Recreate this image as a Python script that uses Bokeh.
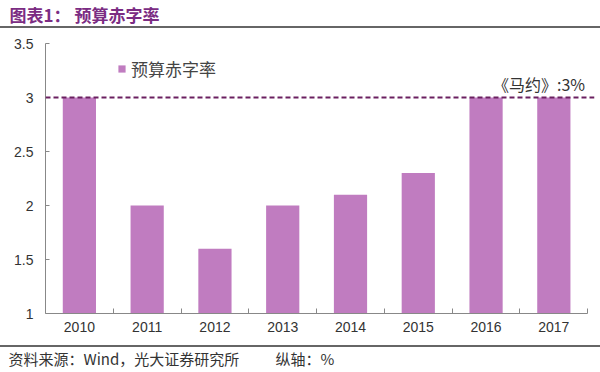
from bokeh.plotting import figure
from bokeh.layouts import column
from bokeh.models import Span, Label, NumeralTickFormatter, FixedTicker, ColumnDataSource, Range1d, Div
from bokeh.core.properties import value
from bokeh.embed import file_html
from bokeh.resources import INLINE

years = ["2010", "2011", "2012", "2013", "2014", "2015", "2016", "2017"]
deficit = [3.0, 2.0, 1.6, 2.0, 2.1, 2.3, 3.0, 3.0]
y_ticks = [1, 1.5, 2, 2.5, 3, 3.5]
maastricht = 3.0
title_text = "图表1：  预算赤字率"
source_text = "资料来源：Wind，光大证券研究所"
unit_text = "纵轴：%"
series_name = "预算赤字率"
ref_text = "《马约》:3%"

CJK = "Noto Sans CJK SC"
LAT = "Liberation Sans"
W = 600


def strip(h):
    f = figure(width=W, height=h, x_range=Range1d(0, W), y_range=Range1d(h, 0),
               output_backend="svg", toolbar_location=None,
               x_axis_location=None, y_axis_location=None,
               min_border=0, min_border_left=0, min_border_right=0,
               min_border_top=0, min_border_bottom=0)
    f.grid.grid_line_color = None
    f.outline_line_color = None
    f.frame_align = False
    return f


def rule():
    return Div(text="", width=W, height=2, margin=0,
               styles={"background-color": "#666666"})


# --- title strip
top = strip(26)
top.text(x=[9], y=[14], text=[title_text], text_font=value(CJK), text_font_style="bold",
         text_font_size="17px", text_color="#7b2c83", text_baseline="middle")

# --- main chart
xpos = [i + 0.5 for i in range(len(years))]
src = ColumnDataSource(dict(x=xpos, val=deficit))
p = figure(x_range=Range1d(0, 8.10), y_range=Range1d(1, 3.5), width=W, height=317,
           output_backend="svg", toolbar_location=None,
           min_border_top=15, min_border_bottom=32, min_border_left=45, min_border_right=6)
p.frame_align = False
p.outline_line_color = None
p.grid.grid_line_color = None

p.vbar(x="x", top="val", bottom=1, width=0.49, source=src,
       fill_color="#c07cc0", line_color=None, legend_label=series_name)

p.yaxis.ticker = FixedTicker(ticks=y_ticks)
p.yaxis.formatter = NumeralTickFormatter(format="0.[0]")
p.xaxis.ticker = FixedTicker(ticks=xpos, minor_ticks=list(range(1, len(years) + 1)))
p.xaxis.major_label_overrides = {x: y for x, y in zip(xpos, years)}
p.xaxis.bounds = (0, len(years))
for ax in (p.xaxis, p.yaxis):
    ax.axis_line_color = "#888888"
    ax.major_tick_line_color = "#888888"
    ax.major_tick_in = 4
    ax.major_tick_out = 0
    ax.minor_tick_line_color = None
    ax.major_label_text_font = LAT
    ax.major_label_text_font_size = "14px"
    ax.major_label_text_color = "#333333"
p.xaxis.major_tick_line_color = None
p.xaxis.minor_tick_line_color = "#888888"
p.xaxis.minor_tick_in = 5
p.xaxis.minor_tick_out = 0
p.xaxis.major_label_standoff = 8
p.yaxis.major_label_standoff = 12

p.add_layout(Span(location=maastricht, dimension="width", line_color="#6b2060",
                  line_width=2.2, line_dash="5 3"))
p.add_layout(Label(x=7.96, y=maastricht, text=ref_text, text_align="right",
                   text_baseline="bottom", y_offset=2, text_font=CJK,
                   text_font_size="16px", text_color="#333333"))

p.legend.location = (72, 232)
p.legend.border_line_color = None
p.legend.background_fill_alpha = 0
p.legend.label_text_font = CJK
p.legend.label_text_font_size = "17px"
p.legend.label_text_color = "#444444"
p.legend.glyph_width = 9
p.legend.glyph_height = 9
p.legend.label_height = 20
p.legend.padding = 0
p.legend.margin = 0
p.legend.label_standoff = 5

# --- source strip
bot = strip(25)
bot.text(x=[8], y=[11], text=[source_text], text_font=value(CJK), text_font_size="15px",
         text_color="#333333", text_baseline="middle")
bot.text(x=[275], y=[11], text=[unit_text], text_font=value(CJK), text_font_size="15px",
         text_color="#333333", text_baseline="middle")

layout = column(top, rule(), p, rule(), bot, spacing=0)
open("out.html", "w").write(file_html(layout, INLINE))
